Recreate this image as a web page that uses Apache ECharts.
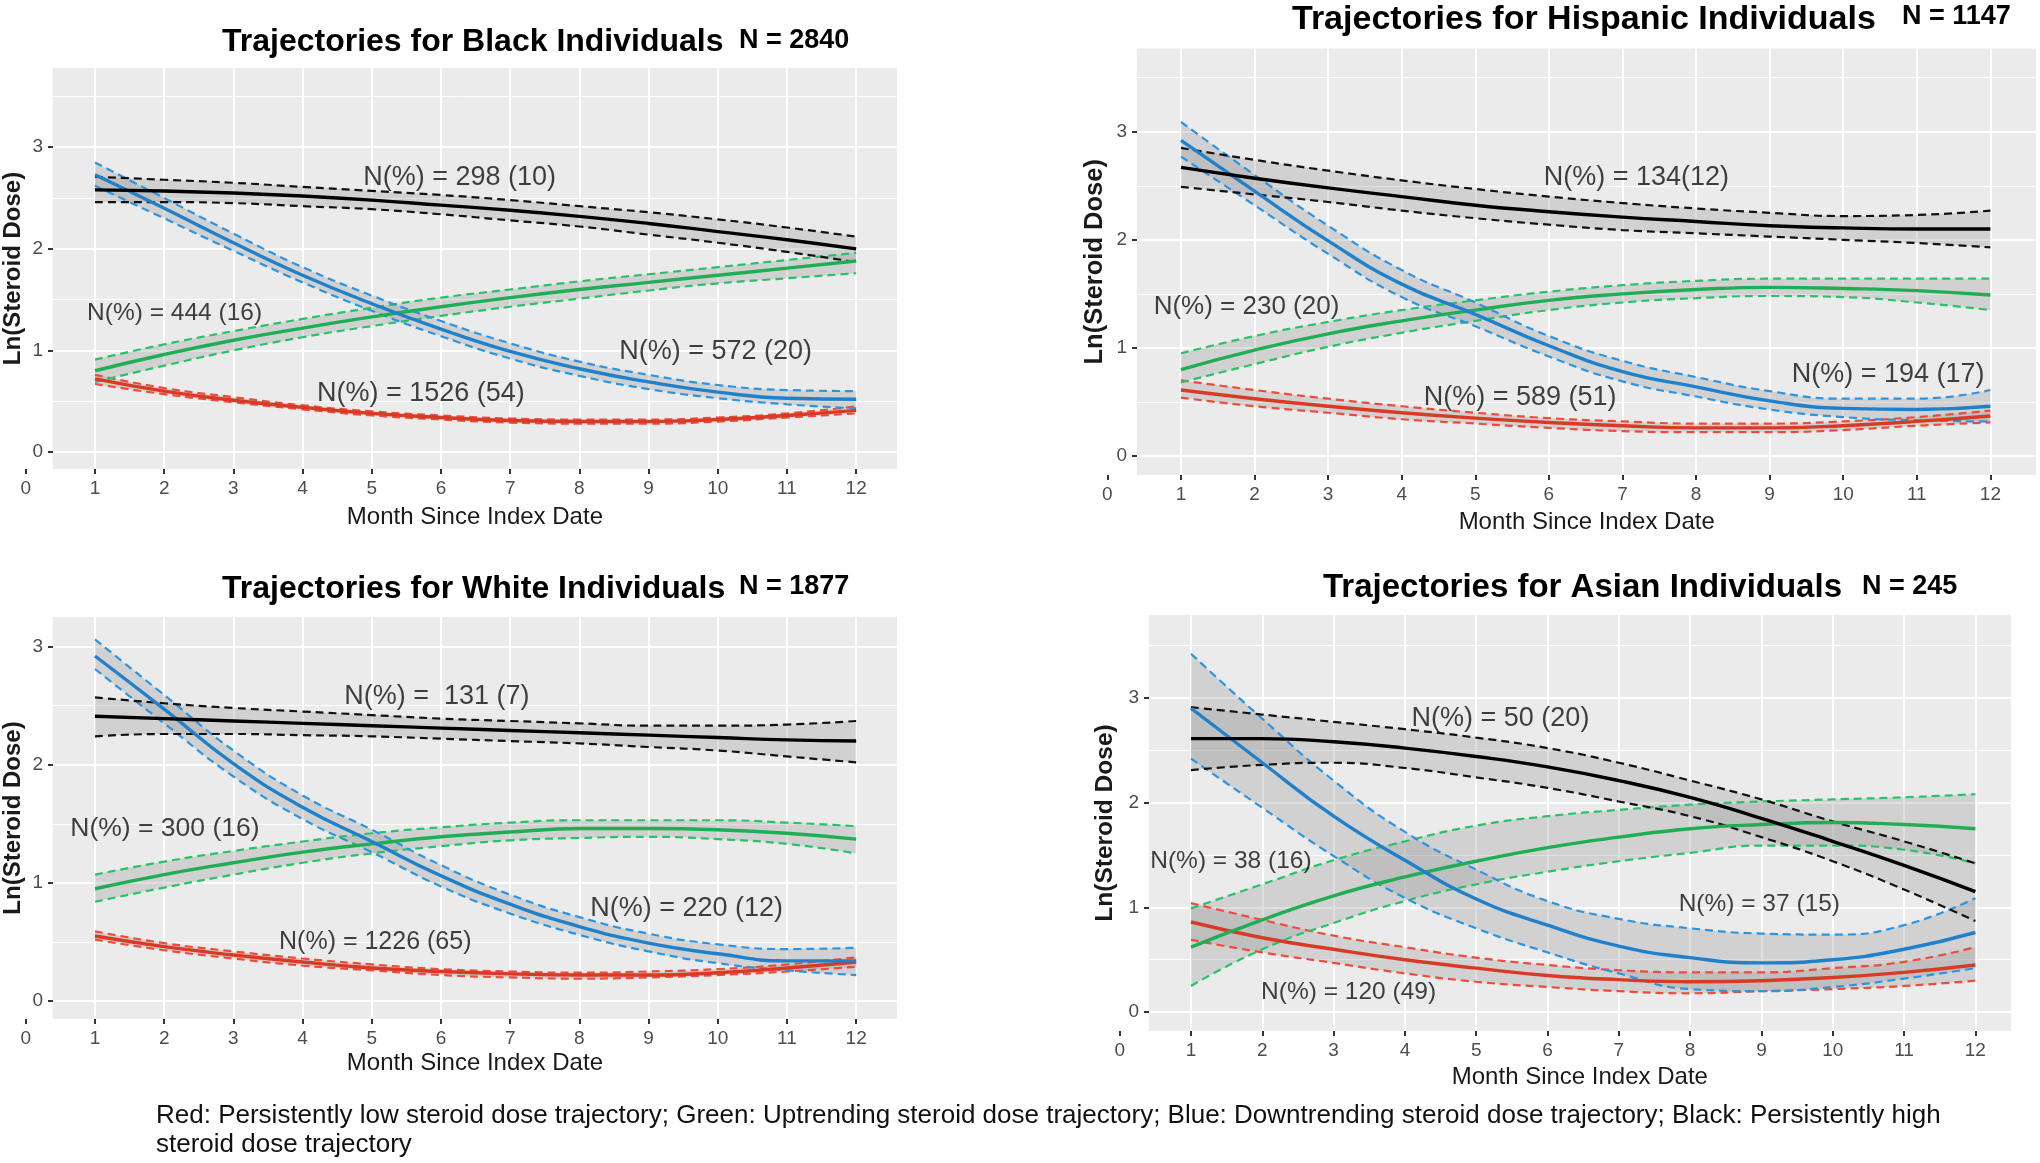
<!DOCTYPE html>
<html>
<head>
<meta charset="utf-8">
<script src="https://cdn.jsdelivr.net/npm/echarts@6/dist/echarts.min.js"></script>
<style>
html,body{margin:0;padding:0;background:#ffffff;}
#chart{width:2040px;height:1163px;}
</style>
</head>
<body>
<div id="chart"></div>
<script>
// ---------------- DATA ----------------
const months = [1,2,3,4,5,6,7,8,9,10,11,12];
const xTickLabels = [0,1,2,3,4,5,6,7,8,9,10,11,12];
const yTickLabels = [0,1,2,3];
const yGridValues = [0,0.5,1,1.5,2,2.5,3,3.5];
const xGridValues = [1,2,3,4,5,6,7,8,9,10,11,12];

const panelTitles = ['Trajectories for Black Individuals','Trajectories for Hispanic Individuals','Trajectories for White Individuals','Trajectories for Asian Individuals'];
const panelN = ['N = 2840','N = 1147','N = 1877','N = 245'];
const footerText = 'Red: Persistently low steroid dose trajectory; Green: Uptrending steroid dose trajectory; Blue: Downtrending steroid dose trajectory; Black: Persistently high\nsteroid dose trajectory';

// Black individuals
const BL_red     = [0.72,0.60,0.51,0.44,0.38,0.34,0.31,0.30,0.30,0.32,0.36,0.41];
const BL_redHi   = [0.76,0.63,0.54,0.46,0.40,0.36,0.33,0.32,0.32,0.34,0.38,0.45];
const BL_redLo   = [0.67,0.57,0.49,0.42,0.36,0.32,0.29,0.28,0.28,0.30,0.34,0.38];
const BL_green   = [0.80,0.96,1.10,1.22,1.33,1.43,1.52,1.60,1.67,1.74,1.81,1.88];
const BL_greenHi = [0.91,1.06,1.19,1.31,1.42,1.52,1.60,1.68,1.75,1.82,1.89,1.96];
const BL_greenLo = [0.69,0.85,1.00,1.13,1.24,1.34,1.43,1.51,1.59,1.66,1.71,1.76];
const BL_blue    = [2.73,2.40,2.06,1.74,1.46,1.21,0.99,0.82,0.69,0.59,0.53,0.52];
const BL_blueHi  = [2.85,2.50,2.15,1.82,1.54,1.29,1.07,0.89,0.76,0.66,0.61,0.60];
const BL_blueLo  = [2.62,2.30,1.98,1.67,1.39,1.14,0.92,0.75,0.62,0.53,0.47,0.43];
const BL_black   = [2.58,2.57,2.55,2.52,2.48,2.43,2.38,2.32,2.25,2.17,2.09,2.00];
const BL_blackHi = [2.71,2.68,2.65,2.61,2.57,2.53,2.48,2.42,2.36,2.29,2.21,2.12];
const BL_blackLo = [2.46,2.46,2.45,2.42,2.39,2.34,2.28,2.22,2.14,2.06,1.97,1.87];
const BL_labels  = ['N(%) = 298 (10)','N(%) = 444 (16)','N(%) = 572 (20)','N(%) = 1526 (54)'];
const BL_labelX  = [6.27,2.15,9.97,5.71];
const BL_labelY  = [2.70,1.37,0.99,0.58];

// Hispanic individuals
const HI_red     = [0.61,0.53,0.46,0.40,0.35,0.31,0.28,0.26,0.26,0.28,0.32,0.37];
const HI_redHi   = [0.70,0.61,0.53,0.46,0.40,0.35,0.32,0.30,0.30,0.32,0.36,0.42];
const HI_redLo   = [0.54,0.46,0.40,0.34,0.30,0.26,0.23,0.22,0.22,0.24,0.28,0.31];
const HI_green   = [0.80,0.98,1.13,1.25,1.35,1.44,1.50,1.54,1.56,1.55,1.53,1.49];
const HI_greenHi = [0.95,1.11,1.24,1.35,1.44,1.52,1.58,1.62,1.64,1.64,1.64,1.64];
const HI_greenLo = [0.68,0.85,1.01,1.14,1.25,1.35,1.42,1.46,1.48,1.47,1.42,1.35];
const HI_blue    = [2.92,2.45,1.99,1.59,1.31,1.02,0.78,0.64,0.51,0.44,0.43,0.46];
const HI_blueHi  = [3.09,2.60,2.13,1.72,1.42,1.11,0.88,0.73,0.60,0.53,0.53,0.61];
const HI_blueLo  = [2.77,2.32,1.87,1.47,1.20,0.92,0.69,0.55,0.43,0.36,0.33,0.32];
const HI_black   = [2.67,2.57,2.48,2.40,2.32,2.26,2.21,2.17,2.13,2.11,2.10,2.10];
const HI_blackHi = [2.85,2.74,2.64,2.55,2.47,2.40,2.34,2.29,2.25,2.22,2.23,2.27];
const HI_blackLo = [2.49,2.42,2.35,2.27,2.20,2.14,2.09,2.06,2.03,2.00,1.97,1.93];
const HI_labels  = ['N(%) = 134(12)','N(%) = 230 (20)','N(%) = 194 (17)','N(%) = 589 (51)'];
const HI_labelX  = [7.19,1.89,10.61,5.61];
const HI_labelY  = [2.58,1.38,0.75,0.54];

// White individuals
const WH_red     = [0.55,0.46,0.39,0.33,0.28,0.25,0.23,0.22,0.22,0.24,0.28,0.33];
const WH_redHi   = [0.59,0.49,0.42,0.36,0.31,0.27,0.25,0.24,0.25,0.27,0.31,0.37];
const WH_redLo   = [0.52,0.43,0.36,0.30,0.26,0.22,0.20,0.19,0.20,0.22,0.25,0.29];
const WH_green   = [0.95,1.07,1.17,1.26,1.33,1.39,1.43,1.46,1.46,1.45,1.42,1.37];
const WH_greenHi = [1.07,1.18,1.27,1.35,1.42,1.47,1.51,1.53,1.53,1.53,1.51,1.48];
const WH_greenLo = [0.84,0.96,1.07,1.17,1.25,1.31,1.36,1.38,1.39,1.37,1.33,1.25];
const WH_blue    = [2.92,2.47,2.01,1.64,1.35,1.06,0.82,0.63,0.49,0.40,0.34,0.34];
const WH_blueHi  = [3.06,2.59,2.12,1.74,1.45,1.15,0.90,0.71,0.57,0.48,0.44,0.45];
const WH_blueLo  = [2.81,2.35,1.90,1.54,1.26,0.97,0.74,0.56,0.42,0.32,0.26,0.22];
const WH_black   = [2.41,2.39,2.37,2.35,2.33,2.31,2.29,2.27,2.25,2.23,2.21,2.20];
const WH_blackHi = [2.57,2.52,2.48,2.45,2.42,2.39,2.37,2.35,2.33,2.33,2.34,2.37];
const WH_blackLo = [2.24,2.26,2.26,2.25,2.24,2.22,2.20,2.18,2.15,2.12,2.07,2.02];
const WH_labels  = ['N(%) =  131 (7)','N(%) = 300 (16)','N(%) = 220 (12)','N(%) = 1226 (65)'];
const WH_labelX  = [5.94,2.01,9.55,5.05];
const WH_labelY  = [2.58,1.46,0.78,0.50];

// Asian individuals
const AS_red     = [0.86,0.71,0.60,0.50,0.42,0.35,0.31,0.29,0.30,0.33,0.38,0.45];
const AS_redHi   = [1.04,0.88,0.73,0.62,0.52,0.45,0.40,0.38,0.38,0.42,0.48,0.62];
const AS_redLo   = [0.69,0.57,0.47,0.37,0.29,0.24,0.20,0.18,0.20,0.22,0.25,0.30];
const AS_green   = [0.62,0.88,1.11,1.29,1.44,1.57,1.67,1.75,1.79,1.81,1.79,1.75];
const AS_greenHi = [0.99,1.22,1.45,1.63,1.78,1.87,1.93,1.98,2.01,2.03,2.05,2.08];
const AS_greenLo = [0.25,0.60,0.85,1.06,1.22,1.34,1.44,1.52,1.59,1.59,1.55,1.42];
const AS_blue    = [2.90,2.38,1.87,1.45,1.08,0.83,0.63,0.52,0.47,0.50,0.60,0.76];
const AS_blueHi  = [3.42,2.80,2.21,1.72,1.36,1.06,0.89,0.80,0.75,0.74,0.83,1.09];
const AS_blueLo  = [2.42,1.95,1.49,1.09,0.80,0.57,0.37,0.22,0.20,0.24,0.32,0.42];
const AS_black   = [2.61,2.61,2.58,2.52,2.44,2.34,2.21,2.05,1.85,1.63,1.40,1.15];
const AS_blackHi = [2.91,2.84,2.77,2.70,2.62,2.52,2.38,2.21,2.03,1.82,1.63,1.42];
const AS_blackLo = [2.31,2.36,2.38,2.33,2.24,2.14,2.01,1.87,1.67,1.44,1.17,0.87];
const AS_labels  = ['N(%) = 50 (20)','N(%) = 38 (16)','N(%) = 37 (15)','N(%) = 120 (49)'];
const AS_labelX  = [5.34,1.56,8.97,3.21];
const AS_labelY  = [2.80,1.44,1.03,0.19];

// ---------------- STYLE / LAYOUT ----------------
const FONT = "'Liberation Sans', Arial, Helvetica, sans-serif";
const SMOOTH = 0.5;
const RIBBON_FILL = 'rgba(150,150,150,0.30)';
const groupStyles = {
  red:   {solid:'#D93A26', dash:'#EE4B3A'},
  green: {solid:'#1FAE54', dash:'#26C466'},
  blue:  {solid:'#1F80CC', dash:'#2A95E3'},
  black: {solid:'#000000', dash:'#111111'}
};
const panels = [
  {gl:25.8,  gt:68,    gw:871.2, gh:401,   xMax:12.59, yMin:-0.167, yMax:3.78, bgL:0.39, yOff:-27.2, yGap:28, xGap:36, xPad:27, yNameFs:24,
   tL:222,  tTop:26,  tFs:32, nL:739,  nTop:27.5, nFs:27, labFs:[27,24.5,27,27],
   data:{red:[BL_red,BL_redLo,BL_redHi],green:[BL_green,BL_greenLo,BL_greenHi],blue:[BL_blue,BL_blueLo,BL_blueHi],black:[BL_black,BL_blackLo,BL_blackHi]},
   lab:[BL_labels,BL_labelX,BL_labelY]},
  {gl:1107.4,gt:48.5,  gw:928.6, gh:426.5, xMax:12.62, yMin:-0.176, yMax:3.77, bgL:0.40, yOff:-29.6, yGap:29, xGap:35, xPad:30, yNameFs:25.5,
   tL:1292, tTop:3,   tFs:34, nL:1902, nTop:3,    nFs:27, labFs:[27,26,27,27],
   data:{red:[HI_red,HI_redLo,HI_redHi],green:[HI_green,HI_greenLo,HI_greenHi],blue:[HI_blue,HI_blueLo,HI_blueHi],black:[HI_black,HI_blackLo,HI_blackHi]},
   lab:[HI_labels,HI_labelX,HI_labelY]},
  {gl:25.8,  gt:617,   gw:871.2, gh:402,   xMax:12.59, yMin:-0.152, yMax:3.25, bgL:0.39, yOff:-27.2, yGap:28, xGap:32, xPad:27, yNameFs:24,
   tL:222,  tTop:573.5, tFs:32, nL:739,  nTop:573.5, nFs:27, labFs:[27,26.5,27,25],
   data:{red:[WH_red,WH_redLo,WH_redHi],green:[WH_green,WH_greenLo,WH_greenHi],blue:[WH_blue,WH_blueLo,WH_blueHi],black:[WH_black,WH_blackLo,WH_blackHi]},
   lab:[WH_labels,WH_labelX,WH_labelY]},
  {gl:1119.7,gt:615,   gw:891.3, gh:416,   xMax:12.50, yMin:-0.18,  yMax:3.79, bgL:0.41, yOff:-29.3, yGap:31, xGap:34, xPad:29, yNameFs:24.5,
   tL:1323, tTop:571, tFs:33, nL:1862, nTop:573.5, nFs:27, labFs:[27,24.5,24.5,24.5],
   data:{red:[AS_red,AS_redLo,AS_redHi],green:[AS_green,AS_greenLo,AS_greenHi],blue:[AS_blue,AS_blueLo,AS_blueHi],black:[AS_black,AS_blackLo,AS_blackHi]},
   lab:[AS_labels,AS_labelX,AS_labelY]}
];

// Bezier path through pixel points, mimicking ECharts' own line smoothing
function smoothCommands(pts, s) {
  let out = '';
  const n = pts.length;
  let cp0x = pts[0][0], cp0y = pts[0][1];
  const clamp = (v, a, b) => Math.max(Math.min(v, Math.max(a, b)), Math.min(a, b));
  for (let i = 1; i < n; i++) {
    const x = pts[i][0], y = pts[i][1];
    const px = pts[i-1][0], py = pts[i-1][1];
    let cp1x = x, cp1y = y, ncx = x, ncy = y;
    if (i < n - 1) {
      const nx = pts[i+1][0], ny = pts[i+1][1];
      const vx = nx - px, vy = ny - py;
      const l0 = Math.hypot(x - px, y - py), l1 = Math.hypot(nx - x, ny - y);
      const r = l1 / (l0 + l1);
      ncx = clamp(x + vx * s * r, nx, x);
      ncy = clamp(y + vy * s * r, ny, y);
      const dxn = ncx - x, dyn = ncy - y;
      cp1x = clamp(x - dxn * l0 / l1, px, x);
      cp1y = clamp(y - dyn * l0 / l1, py, y);
      const dxp = x - cp1x, dyp = y - cp1y;
      ncx = x + dxp * l1 / l0;
      ncy = y + dyp * l1 / l0;
    }
    out += ' C' + cp0x.toFixed(2) + ',' + cp0y.toFixed(2) + ' ' + cp1x.toFixed(2) + ',' + cp1y.toFixed(2) + ' ' + x.toFixed(2) + ',' + y.toFixed(2);
    cp0x = ncx; cp0y = ncy;
  }
  return out;
}
function ribbonRender(params, api) {
  if (params.dataIndexInside !== 0) return null;
  const n = params.dataInsideLength;
  const up = [], dn = [];
  for (let i = 0; i < n; i++) {
    up.push(api.coord([api.value(0, i), api.value(2, i)]));
    dn.push(api.coord([api.value(0, i), api.value(1, i)]));
  }
  dn.reverse();
  const d = 'M' + up[0][0].toFixed(2) + ',' + up[0][1].toFixed(2) + smoothCommands(up, SMOOTH) +
            ' L' + dn[0][0].toFixed(2) + ',' + dn[0][1].toFixed(2) + smoothCommands(dn, SMOOTH) + ' Z';
  return {type:'path', shape:{pathData:d}, style:{fill:RIBBON_FILL, stroke:null}, silent:true};
}

// ---------------- BUILD OPTION ----------------
const grids = [], xAxes = [], yAxes = [], series = [], titles = [];
const pairs = arr => months.map((m, i) => [m, arr[i]]);

panels.forEach((p, k) => {
  grids.push({left:p.gl, top:p.gt, width:p.gw, height:p.gh, containLabel:false, show:false});
  xAxes.push({
    type:'value', gridIndex:k, min:0, max:p.xMax,
    axisLine:{show:false, onZero:false},
    axisTick:{show:true, length:5, customValues:xTickLabels, lineStyle:{color:'#333333', width:2}},
    axisLabel:{customValues:xTickLabels, margin:10, fontSize:19, color:'#4D4D4D', fontFamily:FONT},
    splitLine:{show:false},
    name:'Month Since Index Date', nameLocation:'middle', nameGap:p.xGap,
    nameTextStyle:{fontSize:24, color:'#1A1A1A', fontFamily:FONT, padding:[0,0,0,p.xPad]}
  });
  yAxes.push({
    type:'value', gridIndex:k, min:p.yMin, max:p.yMax, offset:p.yOff,
    axisLine:{show:false, onZero:false},
    axisTick:{show:true, length:5, customValues:yTickLabels, lineStyle:{color:'#333333', width:2}},
    axisLabel:{customValues:yTickLabels, margin:10, fontSize:19, color:'#4D4D4D', fontFamily:FONT},
    splitLine:{show:false},
    name:'Ln(Steroid Dose)', nameLocation:'middle', nameGap:p.yGap,
    nameTextStyle:{fontSize:p.yNameFs, fontWeight:'bold', color:'#1A1A1A', fontFamily:FONT}
  });
  // panel background
  series.push({
    type:'line', xAxisIndex:k, yAxisIndex:k, data:[], silent:true, z:-3,
    markArea:{silent:true, z:-3, itemStyle:{color:'#EBEBEB'},
      data:[[{coord:[p.bgL, p.yMin]}, {coord:[p.xMax, p.yMax]}]]}
  });
  // grid lines
  const gl = [];
  yGridValues.filter(v => v <= p.yMax).forEach(v => {
    const major = Number.isInteger(v);
    gl.push({yAxis:v, lineStyle:{color:'#FFFFFF', width: major ? 2 : 1, type:'solid'}});
  });
  xGridValues.forEach(v => gl.push({xAxis:v, lineStyle:{color:'#FFFFFF', width:2, type:'solid'}}));
  series.push({
    type:'line', xAxisIndex:k, yAxisIndex:k, data:[], silent:true, z:-2,
    markLine:{silent:true, z:-2, symbol:'none', animation:false, label:{show:false}, data:gl}
  });
  const groups = ['red','green','blue','black'];
  // confidence ribbons
  groups.forEach(g => {
    const [mid, lo, hi] = p.data[g];
    series.push({type:'custom', xAxisIndex:k, yAxisIndex:k, silent:true, z:2,
      data: months.map((m, i) => [m, lo[i], hi[i]]),
      encode:{x:0, y:[1,2]},
      renderItem: ribbonRender});
  });
  // dashed bounds
  groups.forEach(g => {
    const [mid, lo, hi] = p.data[g];
    const st = groupStyles[g];
    [hi, lo].forEach(b => series.push({type:'line', xAxisIndex:k, yAxisIndex:k, data:pairs(b), smooth:SMOOTH,
      symbol:'none', silent:true, z:3, lineStyle:{color:st.dash, width:2.2, type:[8,5]}}));
  });
  // fitted trajectories
  groups.forEach(g => {
    const [mid] = p.data[g];
    const st = groupStyles[g];
    series.push({type:'line', xAxisIndex:k, yAxisIndex:k, data:pairs(mid), smooth:SMOOTH,
      symbol:'none', silent:true, z:4, lineStyle:{color:st.solid, width:3.4}});
  });
  // annotations
  const [lt, lx, ly] = p.lab;
  series.push({type:'scatter', xAxisIndex:k, yAxisIndex:k, symbolSize:0, silent:true, z:6,
    data: lt.map((t, i) => ({name:t, value:[lx[i], ly[i]],
      label:{fontSize:p.labFs[i]}})),
    label:{show:true, position:'inside', formatter:'{b}', fontSize:27, color:'#111111', fontFamily:FONT}});
  // titles
  titles.push({text:panelTitles[k], left:p.tL, top:p.tTop, padding:0,
    textStyle:{fontSize:p.tFs, fontWeight:'bold', color:'#000000', fontFamily:FONT, lineHeight:p.tFs}});
  titles.push({text:panelN[k], left:p.nL, top:p.nTop, padding:0,
    textStyle:{fontSize:p.nFs, fontWeight:'bold', color:'#000000', fontFamily:FONT, lineHeight:p.nFs}});
});

titles.push({text:footerText, left:156, top:1101, padding:0,
  textStyle:{fontSize:26, fontWeight:'normal', color:'#111111', fontFamily:FONT, lineHeight:29}});

const chart = echarts.init(document.getElementById('chart'), null, {renderer:'canvas'});
chart.setOption({
  backgroundColor:'#FFFFFF',
  animation:false,
  title:titles,
  grid:grids,
  xAxis:xAxes,
  yAxis:yAxes,
  series:series
});
</script>
</body>
</html>
